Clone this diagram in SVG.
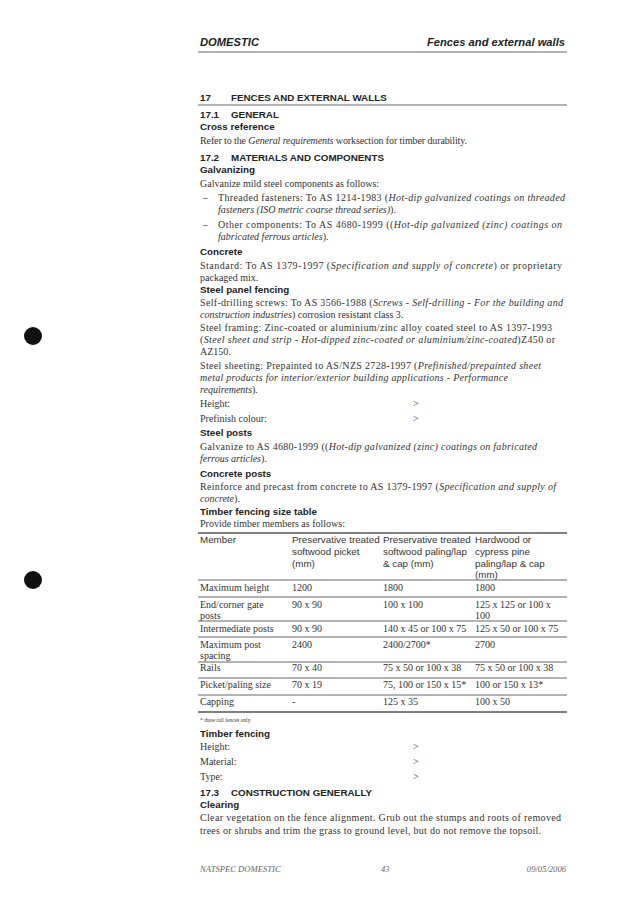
<svg xmlns="http://www.w3.org/2000/svg" width="637" height="914" viewBox="0 0 637 914">
<style>
.b{font-family:"Liberation Serif",serif;font-size:10px;fill:#333}
.h{font-family:"Liberation Sans",Arial,sans-serif;font-size:9.8px;font-weight:bold;fill:#222}
.t{font-family:"Liberation Sans",Arial,sans-serif;font-size:9.8px;fill:#333}
.c{font-family:"Liberation Serif",serif;font-size:10px;fill:#333}
.i{font-style:italic}
.ln{stroke:#666;stroke-width:1}
.hd{font-size:11.2px}
.ft{font-size:8.6px;fill:#666}
</style>
<rect width="637" height="914" fill="#fff"/>
<g id="header">
<text x="200" y="46" class="h i hd">DOMESTIC</text>
<text x="565" y="46" class="h i hd" text-anchor="end">Fences and external walls</text>
<line x1="198" y1="52" x2="567" y2="52" class="ln"/>
</g>
<g id="dots">
<circle cx="33" cy="336" r="9" fill="#111"/>
<circle cx="33" cy="580" r="9" fill="#111"/>
</g>
<g id="body">
<text x="200" y="101" class="h">17<tspan x="231">FENCES AND EXTERNAL WALLS</tspan></text>
<line x1="198" y1="105" x2="567" y2="105" class="ln"/>
<text x="200" y="118" class="h">17.1<tspan x="231">GENERAL</tspan></text>
<text x="200" y="130" class="h">Cross reference</text>
<text x="200" y="144" class="b" textLength="267">Refer to the <tspan class="i">General requirements</tspan> worksection for timber durability.</text>
<text x="200" y="161" class="h">17.2<tspan x="231">MATERIALS AND COMPONENTS</tspan></text>
<text x="200" y="173" class="h">Galvanizing</text>
<text x="200" y="187" class="b">Galvanize mild steel components as follows:</text>
<text x="203" y="201" class="b">–</text>
<text x="218" y="201" class="b" textLength="347">Threaded fasteners: To AS 1214-1983 (<tspan class="i">Hot-dip galvanized coatings on threaded</tspan></text>
<text x="218" y="213" class="b"><tspan class="i">fasteners (ISO metric coarse thread series)</tspan>).</text>
<text x="203" y="228" class="b">–</text>
<text x="218" y="228" class="b" textLength="344">Other components: To AS 4680-1999 ((<tspan class="i">Hot-dip galvanized (zinc) coatings on</tspan></text>
<text x="218" y="240" class="b"><tspan class="i">fabricated ferrous articles</tspan>).</text>
<text x="200" y="255" class="h">Concrete</text>
<text x="200" y="269" class="b" textLength="362">Standard: To AS 1379-1997 (<tspan class="i">Specification and supply of concrete</tspan>) or proprietary</text>
<text x="200" y="281" class="b">packaged mix.</text>
<text x="200" y="293" class="h">Steel panel fencing</text>
<text x="200" y="306" class="b" textLength="363">Self-drilling screws: To AS 3566-1988 (<tspan class="i">Screws - Self-drilling - For the building and</tspan></text>
<text x="200" y="318" class="b"><tspan class="i">construction industries</tspan>) corrosion resistant class 3.</text>
<text x="200" y="331" class="b" textLength="352">Steel framing: Zinc-coated or aluminium/zinc alloy coated steel to AS 1397-1993</text>
<text x="200" y="343" class="b" textLength="355">(<tspan class="i">Steel sheet and strip - Hot-dipped zinc-coated or aluminium/zinc-coated</tspan>)Z450 or</text>
<text x="200" y="355" class="b">AZ150.</text>
<text x="200" y="369" class="b" textLength="341">Steel sheeting: Prepainted to AS/NZS 2728-1997 (<tspan class="i">Prefinished/prepainted sheet</tspan></text>
<text x="200" y="381" class="b i" textLength="308">metal products for interior/exterior building applications - Performance</text>
<text x="200" y="393" class="b"><tspan class="i">requirements</tspan>).</text>
<text x="200" y="407" class="b">Height:</text><text x="413" y="407" class="b">&gt;</text>
<text x="200" y="422" class="b">Prefinish colour:</text><text x="413" y="422" class="b">&gt;</text>
<text x="200" y="436" class="h">Steel posts</text>
<text x="200" y="450" class="b" textLength="337">Galvanize to AS 4680-1999 ((<tspan class="i">Hot-dip galvanized (zinc) coatings on fabricated</tspan></text>
<text x="200" y="462" class="b"><tspan class="i">ferrous articles</tspan>).</text>
<text x="200" y="477" class="h">Concrete posts</text>
<text x="200" y="490" class="b" textLength="356">Reinforce and precast from concrete to AS 1379-1997 (<tspan class="i">Specification and supply of</tspan></text>
<text x="200" y="502" class="b"><tspan class="i">concrete</tspan>).</text>
<text x="200" y="515" class="h">Timber fencing size table</text>
<text x="200" y="527" class="b">Provide timber members as follows:</text>
</g>
<g id="table">
<line x1="198" y1="533" x2="567" y2="533" stroke="#555" stroke-width="1.5"/>
<line x1="198" y1="580" x2="567" y2="580" class="ln"/>
<line x1="198" y1="597" x2="567" y2="597" class="ln"/>
<line x1="198" y1="621" x2="567" y2="621" class="ln"/>
<line x1="198" y1="637" x2="567" y2="637" class="ln"/>
<line x1="198" y1="662" x2="567" y2="662" class="ln"/>
<line x1="198" y1="678" x2="567" y2="678" class="ln"/>
<line x1="198" y1="695" x2="567" y2="695" class="ln"/>
<line x1="198" y1="712" x2="567" y2="712" stroke="#555" stroke-width="1.5"/>
<text class="t" x="200" y="543">Member</text>
<text class="t" x="292" y="543">Preservative treated</text>
<text class="t" x="292" y="555">softwood picket</text>
<text class="t" x="292" y="567">(mm)</text>
<text class="t" x="383" y="543">Preservative treated</text>
<text class="t" x="383" y="555">softwood paling/lap</text>
<text class="t" x="383" y="567">&amp; cap (mm)</text>
<text class="t" x="475" y="543">Hardwood or</text>
<text class="t" x="475" y="555">cypress pine</text>
<text class="t" x="475" y="567">paling/lap &amp; cap</text>
<text class="t" x="475" y="578">(mm)</text>
<text class="c" x="200" y="591">Maximum height</text><text class="c" x="292" y="591">1200</text><text class="c" x="383" y="591">1800</text><text class="c" x="475" y="591">1800</text>
<text class="c" x="200" y="608">End/corner gate</text><text class="c" x="200" y="619">posts</text><text class="c" x="292" y="608">90 x 90</text><text class="c" x="383" y="608">100 x 100</text><text class="c" x="475" y="608">125 x 125 or 100 x</text><text class="c" x="475" y="619">100</text>
<text class="c" x="200" y="632">Intermediate posts</text><text class="c" x="292" y="632">90 x 90</text><text class="c" x="383" y="632">140 x 45 or 100 x 75</text><text class="c" x="475" y="632">125 x 50 or 100 x 75</text>
<text class="c" x="200" y="648">Maximum post</text><text class="c" x="200" y="659">spacing</text><text class="c" x="292" y="648">2400</text><text class="c" x="383" y="648">2400/2700*</text><text class="c" x="475" y="648">2700</text>
<text class="c" x="200" y="671">Rails</text><text class="c" x="292" y="671">70 x 40</text><text class="c" x="383" y="671">75 x 50 or 100 x 38</text><text class="c" x="475" y="671">75 x 50 or 100 x 38</text>
<text class="c" x="200" y="688">Picket/paling size</text><text class="c" x="292" y="688">70 x 19</text><text class="c" x="383" y="688">75, 100 or 150 x 15*</text><text class="c" x="475" y="688">100 or 150 x 13*</text>
<text class="c" x="200" y="705">Capping</text><text class="c" x="292" y="705">-</text><text class="c" x="383" y="705">125 x 35</text><text class="c" x="475" y="705">100 x 50</text>
<text class="b" x="200" y="722" style="font-size:5.5px">* three rail fences only</text>
</g>
<g id="body2">
<text x="200" y="737" class="h">Timber fencing</text>
<text x="200" y="750" class="b">Height:</text><text x="413" y="750" class="b">&gt;</text>
<text x="200" y="765" class="b">Material:</text><text x="413" y="765" class="b">&gt;</text>
<text x="200" y="780" class="b">Type:</text><text x="413" y="780" class="b">&gt;</text>
<text x="200" y="796" class="h">17.3<tspan x="231">CONSTRUCTION GENERALLY</tspan></text>
<text x="200" y="808" class="h">Clearing</text>
<text x="200" y="821" class="b" textLength="361">Clear vegetation on the fence alignment. Grub out the stumps and roots of removed</text>
<text x="200" y="834" class="b" textLength="341">trees or shrubs and trim the grass to ground level, but do not remove the topsoil.</text>
</g>
<g id="footer">
<text x="200" y="872" class="b i ft">NATSPEC DOMESTIC</text>
<text x="381" y="872" class="b i ft">43</text>
<text x="566" y="872" class="b i ft" text-anchor="end">09/05/2006</text>
</g>
</svg>
